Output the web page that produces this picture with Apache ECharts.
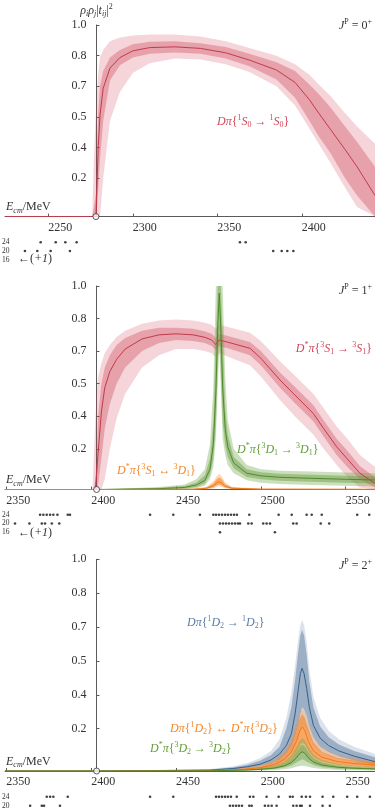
<!DOCTYPE html>
<html><head><meta charset="utf-8">
<script src="https://cdn.jsdelivr.net/npm/echarts@6/dist/echarts.min.js"></script>
<style>html,body{margin:0;padding:0;background:#fff}#c{width:375px;height:811px}</style>
</head><body><div id="c"></div>
<script>
// ---------- axis ranges & ticks ----------
const X1_RANGE = [2224.4, 2443.3];
const X2_RANGE = [2349.2, 2567.3];
const X1_TICKS = [2250, 2300, 2350, 2400];
const X2_TICKS = [2350, 2400, 2450, 2500, 2550];
const Y_TICKS = [0.2, 0.36, 0.52, 0.68, 0.84, 1.0];
const THRESH = [2278.2, 2403.2, 2403.2];
const ROWS = ['16', '20', '24'];

// ---------- panel 1 : D pi {1S0 -> 1S0} ----------
const P1_E  = [2224.4,2276,2277,2278.2,2278.6,2279.6,2280.6,2282.5,2286.5,2292.4,2300,2310,2325,2340,2355,2369,2385,2396,2404.5,2410,2417,2425.6,2432.7,2443.3];
const P1_C  = [0,0,0,0,0.11,0.37,0.53,0.67,0.775,0.83,0.865,0.882,0.886,0.878,0.855,0.817,0.765,0.70,0.61,0.54,0.455,0.35,0.26,0.11];
const P1_IL = [0,0,0,0,0,0.15,0.3,0.5,0.71,0.79,0.83,0.85,0.857,0.85,0.825,0.785,0.715,0.62,0.5,0.42,0.33,0.2,0.11,0];
const P1_IH = [0,0,0.05,0.12,0.3,0.55,0.68,0.76,0.83,0.87,0.9,0.912,0.915,0.905,0.885,0.85,0.805,0.76,0.69,0.64,0.57,0.47,0.39,0.26];
const P1_OL = [0,0,0,0,0,0,0,0.2,0.5,0.65,0.75,0.8,0.825,0.82,0.795,0.755,0.68,0.58,0.46,0.38,0.28,0.15,0.05,0];
const P1_OH = [0,0,0.3,0.55,0.62,0.75,0.83,0.87,0.915,0.935,0.945,0.95,0.95,0.94,0.915,0.88,0.84,0.795,0.74,0.69,0.63,0.54,0.47,0.38];

// ---------- panel 2 : D* pi {3S1 -> 3S1} ----------
const P2R_E  = [2349.2,2400.8,2401.5,2402.5,2403.2,2404,2406,2408,2411,2415,2420,2430,2440,2450,2460,2467,2471,2473.5,2475.5,2480,2493.6,2500,2511.3,2520,2530.9,2537,2544.7,2551,2558.4,2567.3];
const P2R_C  = [0,0,0,0,0,0.17,0.38,0.50,0.58,0.64,0.69,0.74,0.76,0.765,0.76,0.748,0.735,0.712,0.735,0.725,0.694,0.645,0.538,0.465,0.374,0.3,0.21,0.15,0.08,0.03];
const P2R_IL = [0,0,0,0,0,0.02,0.15,0.3,0.42,0.52,0.6,0.68,0.72,0.735,0.73,0.72,0.705,0.685,0.705,0.695,0.66,0.61,0.5,0.425,0.335,0.26,0.17,0.11,0.05,0.01];
const P2R_IH = [0,0,0,0.05,0.15,0.35,0.52,0.6,0.66,0.71,0.745,0.78,0.795,0.795,0.79,0.778,0.765,0.745,0.765,0.755,0.725,0.68,0.575,0.505,0.415,0.34,0.25,0.19,0.115,0.06];
const P2R_OL = [0,0,0,0,0,0,0,0.05,0.2,0.35,0.47,0.6,0.66,0.69,0.69,0.68,0.67,0.65,0.67,0.655,0.61,0.555,0.44,0.36,0.27,0.2,0.12,0.06,0.01,0];
const P2R_OH = [0,0,0.15,0.35,0.48,0.55,0.62,0.67,0.71,0.75,0.78,0.815,0.83,0.835,0.83,0.82,0.81,0.79,0.81,0.8,0.77,0.73,0.63,0.56,0.47,0.4,0.31,0.25,0.17,0.11];

// ---------- panel 2 : D* pi {3D1 -> 3D1} ----------
const P2G_E  = [2349.2,2403.2,2440,2455,2462,2467,2470,2472,2473.5,2474.6,2475.5,2476.4,2477.5,2479,2480.5,2484,2491.7,2500,2511,2530,2550,2567.3];
const P2G_C  = [0,0,0.004,0.01,0.022,0.045,0.1,0.22,0.48,0.8,0.965,0.8,0.5,0.3,0.21,0.13,0.08,0.067,0.06,0.055,0.05,0.047];
const P2G_IL = [0,0,0,0.004,0.012,0.03,0.07,0.15,0.32,0.6,0.8,0.6,0.33,0.22,0.16,0.105,0.062,0.05,0.043,0.038,0.033,0.03];
const P2G_IH = [0,0,0.008,0.017,0.035,0.07,0.15,0.33,0.75,1.0,1.0,1.0,0.75,0.4,0.27,0.16,0.1,0.085,0.077,0.072,0.067,0.064];
const P2G_OL = [0,0,0,0,0.005,0.02,0.05,0.11,0.25,0.5,0.7,0.5,0.25,0.17,0.12,0.08,0.045,0.033,0.027,0.022,0.018,0.015];
const P2G_OH = [0,0,0.012,0.025,0.05,0.1,0.22,0.5,1.0,1.0,1.0,1.0,1.0,0.55,0.34,0.2,0.12,0.1,0.092,0.088,0.083,0.08];

// ---------- panel 2 : D* pi {3S1 <-> 3D1} ----------
const P2O_E  = [2349.2,2403.2,2460,2468,2472,2474,2475.5,2477,2479,2483,2500,2567.3];
const P2O_C  = [0,0,0.001,0.006,0.018,0.032,0.038,0.03,0.016,0.006,0.002,0.001];
const P2O_IL = [0,0,0,0.003,0.01,0.02,0.025,0.02,0.01,0.003,0.001,0];
const P2O_IH = [0,0,0.002,0.01,0.03,0.05,0.06,0.05,0.026,0.01,0.003,0.002];
const P2O_OL = [0,0,0,0.001,0.006,0.012,0.016,0.012,0.006,0.001,0,0];
const P2O_OH = [0,0,0.003,0.014,0.04,0.065,0.078,0.065,0.035,0.014,0.004,0.003];

// ---------- panel 3 : D pi {1D2 -> 1D2} ----------
const P3B_E  = [2349.2,2403.2,2470,2484,2492,2499.5,2506,2511,2515,2518,2520.2,2522,2523.3,2524.3,2525.5,2527,2528.6,2531,2535,2540,2546,2555,2567.3];
const P3B_C  = [0,0,0.004,0.012,0.02,0.032,0.052,0.08,0.12,0.175,0.27,0.38,0.46,0.485,0.46,0.39,0.3,0.215,0.155,0.12,0.095,0.07,0.044];
const P3B_IL = [0,0,0.002,0.008,0.013,0.022,0.035,0.055,0.085,0.12,0.17,0.22,0.27,0.3,0.29,0.26,0.21,0.16,0.115,0.09,0.07,0.05,0.03];
const P3B_IH = [0,0,0.007,0.018,0.03,0.048,0.075,0.115,0.2,0.3,0.43,0.56,0.64,0.666,0.64,0.55,0.42,0.3,0.21,0.16,0.125,0.095,0.065];
const P3B_OL = [0,0,0.001,0.005,0.009,0.015,0.025,0.04,0.06,0.09,0.12,0.16,0.2,0.22,0.21,0.19,0.16,0.12,0.09,0.07,0.055,0.04,0.022];
const P3B_OH = [0,0,0.009,0.023,0.038,0.06,0.095,0.15,0.25,0.37,0.5,0.62,0.69,0.713,0.69,0.61,0.48,0.35,0.25,0.19,0.15,0.115,0.08];

// ---------- panel 3 : D pi {1D2} <-> D* pi {3D2} ----------
const P3O_E  = [2349.2,2403.2,2470,2490,2500,2508,2514,2518,2521,2523,2524.5,2526,2528,2531,2536,2545,2555,2567.3];
const P3O_C  = [0,0,0.002,0.008,0.016,0.03,0.055,0.09,0.14,0.19,0.21,0.19,0.14,0.095,0.065,0.045,0.035,0.028];
const P3O_IL = [0,0,0.001,0.005,0.01,0.02,0.035,0.06,0.09,0.12,0.135,0.125,0.095,0.065,0.045,0.03,0.022,0.017];
const P3O_IH = [0,0,0.003,0.012,0.022,0.042,0.08,0.13,0.2,0.25,0.268,0.25,0.2,0.135,0.09,0.062,0.05,0.04];
const P3O_OL = [0,0,0,0.003,0.006,0.012,0.022,0.04,0.06,0.08,0.09,0.085,0.065,0.045,0.03,0.02,0.013,0.01];
const P3O_OH = [0,0,0.004,0.015,0.028,0.052,0.095,0.15,0.23,0.28,0.295,0.28,0.23,0.16,0.11,0.076,0.062,0.05];

// ---------- panel 3 : D* pi {3D2 -> 3D2} ----------
const P3G_E  = P3O_E;
const P3G_C  = [0,0,0.001,0.004,0.008,0.014,0.025,0.04,0.062,0.083,0.091,0.083,0.062,0.042,0.028,0.018,0.013,0.01];
const P3G_IL = [0,0,0,0.002,0.005,0.009,0.016,0.026,0.04,0.05,0.055,0.05,0.04,0.028,0.018,0.011,0.008,0.006];
const P3G_IH = [0,0,0.002,0.006,0.012,0.02,0.035,0.058,0.09,0.115,0.125,0.115,0.09,0.06,0.04,0.026,0.019,0.015];
const P3G_OL = [0,0,0,0.001,0.002,0.004,0.008,0.013,0.02,0.024,0.025,0.024,0.02,0.014,0.009,0.005,0.003,0.002];
const P3G_OH = [0,0,0.003,0.008,0.015,0.026,0.045,0.075,0.115,0.145,0.156,0.145,0.115,0.078,0.052,0.034,0.025,0.02];

// ---------- finite-volume energy levels (dots) ----------
const L1_24 = [2245.5,2254.4,2260.1,2266.8,2363.4,2366.8];
const L1_20 = [2236.2,2243.5,2251.4,2262.8,2383.1,2388.1,2391.4,2395.0];
const L1_16 = [];
const L2_24 = [2369.9,2371.8,2373.8,2375.8,2377.7,2380.1,2386.2,2387.5,2434.7,2448.4,2464.1,2472.0,2473.6,2475.3,2477.1,2478.9,2480.6,2482.4,2484.2,2485.9,2493.2,2510.5,2518.2,2527.0,2530.0,2535.9,2556.8,2563.9];
const L2_20 = [2355.1,2363.6,2370.9,2372.8,2376.8,2381.2,2475.9,2477.7,2479.5,2481.2,2483.0,2484.8,2486.5,2487.7,2492.6,2494.6,2501.4,2503.4,2505.4,2519.1,2521.1,2535.3,2540.3];
const L2_16 = [2475.9,2508.3];
const L3_24 = [2373.8,2375.8,2377.7,2386.2,2434.7,2448.4,2473.6,2475.3,2477.1,2478.9,2480.6,2482.4,2485.8,2493.6,2495.6,2503.4,2510.5,2517.2,2518.8,2524.1,2526.6,2529.0,2536.4,2542.7,2550.9,2556.8,2564.3];
const L3_20 = [2364.0,2370.9,2372.2,2381.6,2481.8,2483.6,2485.4,2487.1,2488.9,2493.2,2494.6,2502.4,2504.4,2506.4,2509.3,2519.1,2521.1,2523.1,2524.1,2529.0,2536.4,2540.7];

// ---------- styling ----------
const FONT = "'Liberation Serif','DejaVu Serif',serif";
const RED = {line:'#c23a4c', inner:'rgba(200,52,70,0.32)', outer:'rgba(208,62,80,0.22)', text:'#d0485a'};
const GRN = {line:'#4f8a2c', inner:'rgba(95,150,55,0.42)', outer:'rgba(110,165,70,0.36)', text:'#62a03a'};
const ORG = {line:'#f07818', inner:'rgba(245,125,30,0.55)', outer:'rgba(248,140,50,0.32)', text:'#f5882a'};
const BLU = {line:'#34618c', inner:'rgba(70,105,145,0.42)', outer:'rgba(90,125,165,0.22)', text:'#5b7ea6'};

const RICH = {
  r:{fontSize:12, fontFamily:FONT, lineHeight:15},
  i:{fontSize:12, fontFamily:FONT, fontStyle:'italic', lineHeight:15},
  sup:{fontSize:8, fontFamily:FONT, verticalAlign:'top', lineHeight:9},
  sub:{fontSize:8, fontFamily:FONT, verticalAlign:'bottom', lineHeight:9},
  subi:{fontSize:8, fontFamily:FONT, fontStyle:'italic', verticalAlign:'bottom', lineHeight:9}
};
function richFor(color){
  const o = {};
  for (const k in RICH) o[k] = Object.assign({color:color}, RICH[k]);
  return o;
}

const PANELS = [
  {top:25, height:191.6, x:X1_RANGE, ticks:X1_TICKS},
  {top:286, height:203.5, x:X2_RANGE, ticks:X2_TICKS},
  {top:559.3, height:211.7, x:X2_RANGE, ticks:X2_TICKS}
];
const DOTGRIDS = [
  {top:237.9, height:26.1, x:X1_RANGE},
  {top:510.3, height:26.4, x:X2_RANGE},
  {top:792.2, height:27, x:X2_RANGE}
];

const grids = [], xAxes = [], yAxes = [];
PANELS.forEach((p, k) => {
  grids.push({left:5, right:0, top:p.top, height:p.height, outerBoundsMode:'none', containLabel:false});
  xAxes.push({
    gridIndex:k, type:'value', min:p.x[0], max:p.x[1],
    axisLine:{show:true, lineStyle:{color:'#5a5a5a', width:1}},
    axisTick:{show:true, inside:true, length:3, customValues:p.ticks, lineStyle:{color:'#5a5a5a'}},
    axisLabel:{show:true, customValues:p.ticks, align:'left', margin:5, color:'#333', fontSize:12, fontFamily:FONT, formatter:v => String(v)},
    splitLine:{show:false},
    name:'{i|E}{subi|cm}{r|/MeV}', nameLocation:'start', nameGap:-1,
    nameTextStyle:{align:'left', verticalAlign:'bottom', padding:[0,0,2,0], color:'#333', rich:richFor('#333')}
  });
  const y = {
    gridIndex:k, type:'value', min:0, max:1, offset:-91.5,
    axisLine:{show:true, lineStyle:{color:'#5a5a5a', width:1}},
    axisTick:{show:true, inside:true, length:3, customValues:Y_TICKS, lineStyle:{color:'#5a5a5a'}},
    axisLabel:{show:true, customValues:Y_TICKS, margin:10, color:'#333', fontSize:12, fontFamily:FONT, formatter:v => v.toFixed(1)},
    splitLine:{show:false}
  };
  if (k === 0) {
    y.name = '{i|ρ}{subi|i}{i|ρ}{subi|j}{r||}{i|t}{subi|ij}{r||}{sup|2}';
    y.nameLocation = 'end'; y.nameGap = 7;
    y.nameTextStyle = {align:'center', color:'#333', rich:richFor('#333')};
  }
  yAxes.push(y);
});
DOTGRIDS.forEach((d, k) => {
  grids.push({left:5, right:0, top:d.top, height:d.height, outerBoundsMode:'none', containLabel:false});
  xAxes.push({gridIndex:3+k, type:'value', min:d.x[0], max:d.x[1], show:false});
  yAxes.push({gridIndex:3+k, type:'category', data:ROWS, boundaryGap:true,
    axisLine:{show:false}, axisTick:{show:false}, splitLine:{show:false},
    axisLabel:{show:true, interval:0, inside:true, margin:-3, fontSize:7.5, color:'#333', fontFamily:FONT}});
});

function pairs(E, V){ return E.map((e, i) => [e, V[i]]); }
function band(gi, E, lo, hi, color){
  const pts = pairs(E, hi).concat(pairs(E, lo).reverse());
  return {
    type:'custom', xAxisIndex:gi, yAxisIndex:gi, silent:true,
    data:[[E[0], 0]],
    renderItem:(params, api) => ({
      type:'polygon',
      shape:{points: pts.map(p => api.coord(p))},
      style:{fill: color}
    })
  };
}
function curve(gi, E, C, color){
  return {type:'line', xAxisIndex:gi, yAxisIndex:gi, data:pairs(E, C), symbol:'none',
    lineStyle:{color:color, width:1}, silent:true, z:3};
}
function group(gi, E, C, IL, IH, OL, OH, col){
  return [band(gi, E, OL, OH, col.outer), band(gi, E, IL, IH, col.inner), curve(gi, E, C, col.line)];
}
function dots(gi, rowsData){
  const data = [];
  rowsData.forEach(([row, arr]) => arr.forEach(e => data.push([e, row])));
  return {type:'scatter', xAxisIndex:gi, yAxisIndex:gi, data, symbol:'circle', symbolSize:2.6,
    itemStyle:{color:'#111'}, silent:true};
}
function thresh(gi, e){
  return {type:'scatter', xAxisIndex:gi, yAxisIndex:gi, data:[[e, 0]], symbol:'circle', symbolSize:6,
    itemStyle:{color:'#fff', borderColor:'#333', borderWidth:1}, z:10, silent:true};
}

const series = [].concat(
  group(0, P1_E, P1_C, P1_IL, P1_IH, P1_OL, P1_OH, RED),
  group(1, P2R_E, P2R_C, P2R_IL, P2R_IH, P2R_OL, P2R_OH, RED),
  group(1, P2G_E, P2G_C, P2G_IL, P2G_IH, P2G_OL, P2G_OH, GRN),
  group(1, P2O_E, P2O_C, P2O_IL, P2O_IH, P2O_OL, P2O_OH, ORG),
  group(2, P3B_E, P3B_C, P3B_IL, P3B_IH, P3B_OL, P3B_OH, BLU),
  group(2, P3O_E, P3O_C, P3O_IL, P3O_IH, P3O_OL, P3O_OH, ORG),
  group(2, P3G_E, P3G_C, P3G_IL, P3G_IH, P3G_OL, P3G_OH, GRN),
  [thresh(0, THRESH[0]), thresh(1, THRESH[1]), thresh(2, THRESH[2])],
  [dots(3, [['24', L1_24], ['20', L1_20], ['16', L1_16]]),
   dots(4, [['24', L2_24], ['20', L2_20], ['16', L2_16]]),
   dots(5, [['24', L3_24], ['20', L3_20]])]
);

function txt(text, pos, color){
  return Object.assign({type:'text', z:20, silent:true,
    style:{text:text, rich:richFor(color), fill:color, fontSize:12, fontFamily:FONT}}, pos);
}
const graphic = [
  txt('{i|J}{sup|P}{r| = 0}{sup|+}', {right:3, top:18}, '#333'),
  txt('{i|J}{sup|P}{r| = 1}{sup|+}', {right:3, top:283}, '#333'),
  txt('{i|J}{sup|P}{r| = 2}{sup|+}', {right:3, top:558}, '#333'),
  txt('{i|Dπ}{r|{}{sup|1}{i|S}{sub|0}{r| → }{sup|1}{i|S}{sub|0}}', {left:217, top:114}, RED.text),
  txt('{i|D}{sup|*}{i|π}{r|{}{sup|3}{i|S}{sub|1}{r| → }{sup|3}{i|S}{sub|1}}', {right:3, top:341}, RED.text),
  txt('{i|D}{sup|*}{i|π}{r|{}{sup|3}{i|D}{sub|1}{r| → }{sup|3}{i|D}{sub|1}}', {left:237, top:442}, GRN.text),
  txt('{i|D}{sup|*}{i|π}{r|{}{sup|3}{i|S}{sub|1}{r| ↔ }{sup|3}{i|D}{sub|1}}', {left:117, top:463}, ORG.text),
  txt('{i|Dπ}{r|{}{sup|1}{i|D}{sub|2}{r| → }{sup|1}{i|D}{sub|2}}', {left:187, top:615}, BLU.text),
  txt('{i|Dπ}{r|{}{sup|1}{i|D}{sub|2}}{r| ↔ }{i|D}{sup|*}{i|π}{r|{}{sup|3}{i|D}{sub|2}}', {left:170, top:721}, ORG.text),
  txt('{i|D}{sup|*}{i|π}{r|{}{sup|3}{i|D}{sub|2}{r| → }{sup|3}{i|D}{sub|2}}', {left:150, top:741}, GRN.text),
  txt('{r|←(}{i|+1}{r|)}', {left:18, top:253}, '#333'),
  txt('{r|←(}{i|+1}{r|)}', {left:18, top:527}, '#333')
];

const chart = echarts.init(document.getElementById('c'), null, {renderer:'canvas'});
chart.setOption({
  backgroundColor:'#fff', animation:false,
  textStyle:{fontFamily:FONT},
  grid:grids, xAxis:xAxes, yAxis:yAxes, series:series, graphic:graphic
});
</script></body></html>
